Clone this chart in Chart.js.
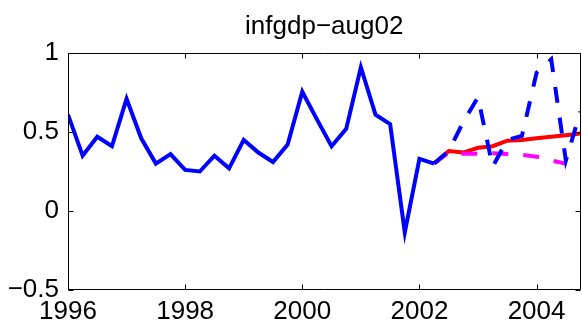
<!DOCTYPE html>
<html>
<head>
<meta charset="utf-8">
<style>
  html, body { margin: 0; padding: 0; background: #fff; }
  #wrap { width: 582px; height: 329px; }
</style>
<script src="https://cdn.jsdelivr.net/npm/chart.js@4"></script>
</head>
<body>
<div id="wrap"><canvas id="c" width="582" height="329"></canvas></div>
<script>
// Quarterly history of infgdp
const histDates = [
  1996.00, 1996.25, 1996.50, 1996.75,
  1997.00, 1997.25, 1997.50, 1997.75,
  1998.00, 1998.25, 1998.50, 1998.75,
  1999.00, 1999.25, 1999.50, 1999.75,
  2000.00, 2000.25, 2000.50, 2000.75,
  2001.00, 2001.25, 2001.50, 2001.75,
  2002.00, 2002.25
];
const histValues = [
  0.61, 0.35, 0.47, 0.41,
  0.71, 0.46, 0.30, 0.36,
  0.26, 0.25, 0.35, 0.27,
  0.45, 0.37, 0.31, 0.42,
  0.755, 0.58, 0.41, 0.52,
  0.91, 0.61, 0.55, -0.135,
  0.33, 0.30
];

// Forecast paths starting from the August 2002 vintage
const fcDates = [
  2002.25, 2002.50, 2002.75,
  2003.00, 2003.25, 2003.50, 2003.75,
  2004.00, 2004.25, 2004.50, 2004.75
];
const fcCentral = [0.30, 0.38, 0.37, 0.40, 0.41, 0.445, 0.45, 0.46, 0.47, 0.48, 0.49];
const fcAlt     = [0.30, 0.38, 0.565, 0.72, 0.28, 0.45, 0.475, 0.875, 0.96, 0.32, 0.63];
const fcLowDates = [
  2002.25, 2002.50, 2002.75,
  2003.00, 2003.25, 2003.50, 2003.75,
  2004.00, 2004.25, 2004.50
];
const fcLow     = [0.30, 0.37, 0.363, 0.363, 0.365, 0.36, 0.355, 0.344, 0.32, 0.30];

const xTickYears = [1996, 1998, 2000, 2002, 2004];
const yTickValues = [-0.5, 0, 0.5, 1];

function toPoints(xs, ys) {
  return xs.map((x, i) => ({ x: x, y: ys[i] }));
}

const FONT = "'Liberation Sans', Arial, Helvetica, sans-serif";

// Axes box with inward ticks on all four sides
const boxPlugin = {
  id: 'boxTicks',
  afterDatasetsDraw(chart) {
    const { ctx, chartArea: a, scales } = chart;
    const L = Math.round(a.left) + 0.5, R = Math.round(a.right) - 0.5;
    const T = Math.round(a.top) + 0.5, B = Math.round(a.bottom) - 0.5;
    const len = 5;
    ctx.save();
    ctx.strokeStyle = '#000';
    ctx.lineWidth = 1;
    ctx.beginPath();
    ctx.rect(L, T, R - L, B - T);
    xTickYears.forEach(v => {
      const px = Math.round(scales.x.getPixelForValue(v)) + 0.5;
      ctx.moveTo(px, B); ctx.lineTo(px, B - len);
      ctx.moveTo(px, T); ctx.lineTo(px, T + len);
    });
    yTickValues.forEach(v => {
      const py = Math.round(scales.y.getPixelForValue(v)) + 0.5;
      ctx.moveTo(L, py); ctx.lineTo(L + len, py);
      ctx.moveTo(R, py); ctx.lineTo(R - len, py);
    });
    ctx.stroke();
    ctx.restore();
  }
};

const common = { pointRadius: 0, tension: 0, borderWidth: 4, fill: false, borderCapStyle: 'butt' };

new Chart(document.getElementById('c'), {
  type: 'line',
  data: {
    datasets: [
      Object.assign({ label: 'history', data: toPoints(histDates, histValues), borderColor: '#0000ff' }, common),
      Object.assign({ label: 'alt', data: toPoints(fcDates, fcAlt), borderColor: '#0000ff', borderDash: [16, 15] }, common),
      Object.assign({ label: 'low', data: toPoints(fcLowDates, fcLow), borderColor: '#ff00ff', borderDash: [16, 15] }, common),
      Object.assign({ label: 'central', data: toPoints(fcDates, fcCentral), borderColor: '#ff0000' }, common)
    ]
  },
  options: {
    responsive: false,
    devicePixelRatio: 1,
    animation: false,
    layout: { padding: { left: 0, right: 1.5, top: 0, bottom: 0 } },
    plugins: {
      legend: { display: false },
      tooltip: { enabled: false },
      title: {
        display: true,
        fullSize: false,
        text: 'infgdp\u2212aug02',
        color: '#000',
        font: { family: FONT, size: 26, weight: 'normal', lineHeight: 1.2 },
        padding: { top: 11, bottom: 10.8 }
      }
    },
    scales: {
      x: {
        type: 'linear',
        min: 1996,
        max: 2004.75,
        afterBuildTicks: s => { s.ticks = xTickYears.map(v => ({ value: v })); },
        afterFit: s => { s.height = 39; },
        grid: { display: false, drawTicks: false },
        border: { display: false },
        ticks: {
          color: '#000',
          font: { family: FONT, size: 26 },
          padding: 6,
          autoSkip: false,
          maxRotation: 0,
          minRotation: 0,
          callback: v => String(v)
        }
      },
      y: {
        type: 'linear',
        min: -0.5,
        max: 1,
        afterBuildTicks: s => { s.ticks = yTickValues.map(v => ({ value: v })); },
        afterFit: s => { s.width = 68; },
        grid: { display: false, drawTicks: false },
        border: { display: false },
        ticks: {
          color: '#000',
          font: { family: FONT, size: 26 },
          padding: 9,
          callback: v => (v < 0 ? '\u2212' + Math.abs(v) : String(v))
        }
      }
    }
  },
  plugins: [boxPlugin]
});
</script>
</body>
</html>
